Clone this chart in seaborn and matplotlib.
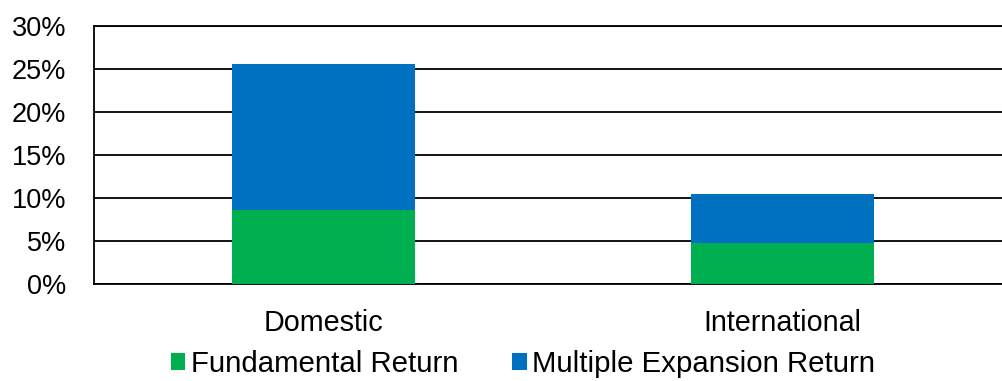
import matplotlib
matplotlib.use("Agg")
import matplotlib.pyplot as plt
import seaborn as sns
import pandas as pd
import numpy as np
from matplotlib.patches import Patch
from matplotlib.ticker import PercentFormatter

categories = ["Domestic", "International"]
fundamental = [8.6, 4.8]
multiple = [17.0, 5.7]
series_names = ["Fundamental Return", "Multiple Expansion Return"]
colors = ["#00B050", "#0070C0"]

sns.set_theme(style="white")
plt.rcParams["font.family"] = ["Liberation Sans", "DejaVu Sans"]
plt.rcParams["text.color"] = "black"

df = pd.DataFrame({
    "category": categories,
    "fundamental": fundamental,
    "total": np.array(fundamental) + np.array(multiple),
})

fig = plt.figure(figsize=(10.02, 3.81), dpi=100)
ax = fig.add_axes([94 / 1002, 97 / 381, 918 / 1002, 258 / 381])

sns.barplot(data=df, x="category", y="total", color=colors[1], width=0.4,
            saturation=1, ax=ax, zorder=3, linewidth=0)
sns.barplot(data=df, x="category", y="fundamental", color=colors[0], width=0.4,
            saturation=1, ax=ax, zorder=4, linewidth=0)

ax.set_xlim(-0.5, 1.5)
ax.set_ylim(0, 30)
ax.set_yticks(range(0, 31, 5))
ax.yaxis.set_major_formatter(PercentFormatter(decimals=0))
ax.grid(axis="y", color="black", linewidth=1.3, zorder=0)
ax.set_axisbelow(True)
ax.set_xlabel("")
ax.set_ylabel("")
for s in ["left", "top", "bottom", "right"]:
    ax.spines[s].set_color("black")
    ax.spines[s].set_linewidth(1.3)
ax.tick_params(axis="y", length=0, pad=20, labelsize=19.5, colors="black")
ax.tick_params(axis="x", length=0, pad=18, labelsize=20.7, colors="black")

handles = [Patch(facecolor=c, edgecolor="none") for c in colors]
fig.legend(handles, series_names, loc="center", bbox_to_anchor=(0.522, 17 / 381),
           ncol=2, frameon=False, fontsize=21.2, handlelength=0.5, handleheight=0.5,
           handletextpad=0.2, columnspacing=1.8, borderaxespad=0, borderpad=0,
           labelcolor="black")

fig.savefig("out.png", dpi=100)
